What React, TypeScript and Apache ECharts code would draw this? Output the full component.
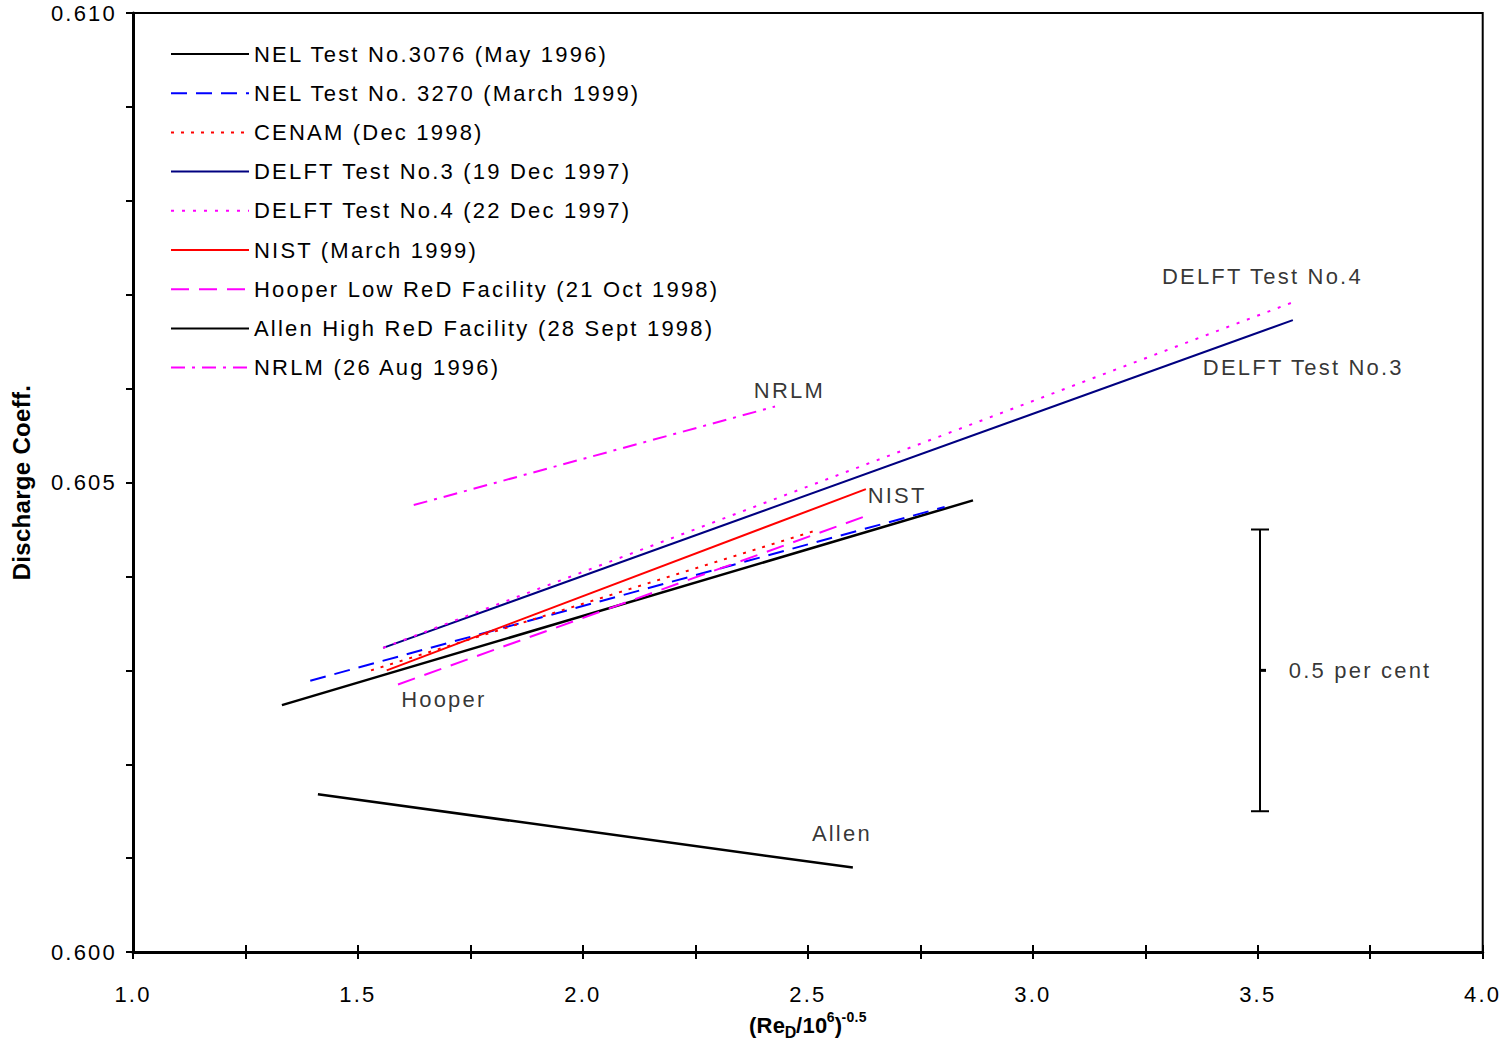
import React, { useEffect, useRef } from "react";
import * as echarts from "echarts";

const FONT = "'Liberation Sans', Arial, Helvetica, sans-serif";

// Series: [x = (ReD/1e6)^-0.5, discharge coefficient]
const NEL_3076 = [[1.331, 0.60263], [2.867, 0.60481]];
const NEL_3270 = [[1.394, 0.60289], [2.804, 0.60474]];
const CENAM = [[1.529, 0.60300], [2.518, 0.60449]];
const DELFT_3 = [[1.556, 0.60324], [3.578, 0.60673]];
const DELFT_4 = [[1.556, 0.60324], [3.578, 0.60692]];
const NIST = [[1.564, 0.60300], [2.629, 0.60493]];
const HOOPER = [[1.589, 0.60285], [2.633, 0.60465]];
const ALLEN = [[1.411, 0.60168], [2.600, 0.60090]];
const NRLM = [[1.624, 0.60476], [2.427, 0.60581]];

const SERIES_NAMES = [
  "NEL Test No.3076 (May 1996)",
  "NEL Test No. 3270 (March 1999)",
  "CENAM (Dec 1998)",
  "DELFT Test No.3 (19 Dec 1997)",
  "DELFT Test No.4 (22 Dec 1997)",
  "NIST (March 1999)",
  "Hooper Low ReD Facility (21 Oct 1998)",
  "Allen High ReD Facility (28 Sept 1998)",
  "NRLM (26 Aug 1996)",
];
const SERIES_DATA = [NEL_3076, NEL_3270, CENAM, DELFT_3, DELFT_4, NIST, HOOPER, ALLEN, NRLM];
const SERIES_COLORS = ["#000000", "#0000ff", "#ff0000", "#000080", "#ff00ff", "#ff0000", "#ff00ff", "#000000", "#ff00ff"];
const SERIES_DASH: any[] = ["solid", [16, 9], [3, 7], "solid", [3, 8], "solid", [18, 10], "solid", [14, 7, 3, 7]];

// Annotation labels: [x, y, text]
const ANNOTATIONS: [number, number, string][] = [
  [3.287, 0.60719, "DELFT Test No.4"],
  [3.378, 0.60622, "DELFT Test No.3"],
  [2.38, 0.60598, "NRLM"],
  [2.633, 0.60486, "NIST"],
  [1.596, 0.60269, "Hooper"],
  [2.509, 0.60126, "Allen"],
  [3.569, 0.603, "0.5 per cent"],
];

// Scale bar: [x, yLow, yHigh] (0.5 per cent of 0.6)
const SCALE_BAR = [[3.505, 0.6015, 0.6045]];

const X_MIN = 1.0, X_MAX = 4.0, X_STEP = 0.25;
const Y_MIN = 0.6, Y_MAX = 0.61, Y_STEP = 0.001;

export default function App() {
  const ref = useRef<HTMLDivElement>(null);

  useEffect(() => {
    if (!ref.current) return;
    const chart = echarts.init(ref.current, undefined, { renderer: "svg" });

    const lineSeries = SERIES_NAMES.map((name, i) => ({
      name,
      type: "line",
      data: SERIES_DATA[i],
      symbol: "none",
      showSymbol: false,
      xAxisIndex: 0,
      yAxisIndex: 0,
      lineStyle: {
        color: SERIES_COLORS[i],
        width: i === 0 || i === 7 ? 2.5 : 2,
        type: SERIES_DASH[i],
      },
      itemStyle: { color: SERIES_COLORS[i] },
      silent: true,
      z: 3,
    }));

    const option: any = {
      animation: false,
      textStyle: { fontFamily: FONT },
      grid: {
        left: 133,
        right: 18,
        top: 13,
        bottom: 89,
        show: true,
        borderColor: "#000",
        borderWidth: 2,
        backgroundColor: "transparent",
      },
      legend: {
        data: SERIES_NAMES,
        orient: "vertical",
        left: 165,
        top: 38,
        itemWidth: 78,
        itemHeight: 14,
        itemGap: 17.2,
        selectedMode: false,
        itemStyle: { opacity: 0 },
        textStyle: { fontSize: 22, color: "#000", lineHeight: 22, fontFamily: FONT },
      },
      xAxis: [
        {
          type: "value",
          min: X_MIN,
          max: X_MAX,
          interval: X_STEP,
          position: "bottom",
          axisLine: { show: true, onZero: false, lineStyle: { color: "#000", width: 3 } },
          axisTick: { show: true, inside: false, length: 7, lineStyle: { color: "#000", width: 2 } },
          splitLine: { show: false },
          axisLabel: {
            margin: 31,
            fontSize: 22,
            color: "#000",
            fontFamily: FONT,
            formatter: (v: number) => (Math.round(v * 4) % 2 === 0 ? v.toFixed(1) : ""),
          },
          name: "{b|(Re}{sub|D}{b|/10}{sup|6}{b|)}{sup|-0.5}",
          nameLocation: "middle",
          nameGap: 56,
          nameTextStyle: {
            rich: {
              b: { fontSize: 22, fontWeight: "bold", color: "#000", fontFamily: FONT, lineHeight: 30, verticalAlign: "middle" },
              sub: { fontSize: 16, fontWeight: "bold", color: "#000", fontFamily: FONT, verticalAlign: "bottom", lineHeight: 16 },
              sup: { fontSize: 14, fontWeight: "bold", color: "#000", fontFamily: FONT, verticalAlign: "top", lineHeight: 14 },
            },
          },
        },
        {
          type: "value",
          min: X_MIN,
          max: X_MAX,
          interval: X_STEP,
          position: "bottom",
          axisLine: { show: false, onZero: false },
          axisTick: { show: true, inside: true, length: 7, lineStyle: { color: "#000", width: 2 } },
          axisLabel: { show: false },
          splitLine: { show: false },
        },
      ],
      yAxis: {
        type: "value",
        min: Y_MIN,
        max: Y_MAX,
        interval: Y_STEP,
        axisLine: { show: true, onZero: false, lineStyle: { color: "#000", width: 3 } },
        axisTick: { show: true, inside: false, length: 7, lineStyle: { color: "#000", width: 2 } },
        splitLine: { show: false },
        axisLabel: {
          margin: 16,
          fontSize: 22,
          color: "#000",
          fontFamily: FONT,
          formatter: (v: number) => (Math.round(v * 1000) % 5 === 0 ? v.toFixed(3) : ""),
        },
        name: "Discharge Coeff.",
        nameLocation: "middle",
        nameRotate: 90,
        nameGap: 100,
        nameTextStyle: { fontSize: 24, fontWeight: "bold", color: "#000", fontFamily: FONT },
      },
      series: [
        ...lineSeries,
        {
          name: "annotations",
          type: "scatter",
          xAxisIndex: 0,
          yAxisIndex: 0,
          symbolSize: 0,
          silent: true,
          data: ANNOTATIONS.map(([x, y, t]) => ({ value: [x, y], text: t })),
          label: {
            show: true,
            position: [0, 0],
            align: "left",
            verticalAlign: "middle",
            fontSize: 22,
            color: "#000",
            fontFamily: FONT,
            formatter: (p: any) => p.data.text,
          },
          z: 5,
        },
        {
          name: "scale bar",
          type: "custom",
          xAxisIndex: 0,
          yAxisIndex: 0,
          silent: true,
          data: SCALE_BAR,
          encode: { x: 0, y: [1, 2] },
          renderItem: (params: any, api: any) => {
            const x = api.value(0);
            const lo = api.value(1);
            const hi = api.value(2);
            const p0 = api.coord([x, lo]);
            const p1 = api.coord([x, hi]);
            const pm = api.coord([x, (lo + hi) / 2]);
            const st = { stroke: "#000", lineWidth: 2 };
            return {
              type: "group",
              children: [
                { type: "line", shape: { x1: p0[0], y1: p0[1], x2: p1[0], y2: p1[1] }, style: st },
                { type: "line", shape: { x1: p0[0] - 9, y1: p0[1], x2: p0[0] + 9, y2: p0[1] }, style: st },
                { type: "line", shape: { x1: p1[0] - 9, y1: p1[1], x2: p1[0] + 9, y2: p1[1] }, style: st },
                { type: "line", shape: { x1: pm[0], y1: pm[1], x2: pm[0] + 6, y2: pm[1] }, style: { stroke: "#000", lineWidth: 3 } },
              ],
            };
          },
          z: 4,
        },
      ],
    };

    chart.setOption(option);
    return () => chart.dispose();
  }, []);

  return (
    <>
      <style>{`#chart text { letter-spacing: 2.2px; } #chart text[style*="bold"] { letter-spacing: 0.3px; }`}</style>
      <div
        id="chart"
        ref={ref}
        style={{ position: "absolute", left: 0, top: 0, width: 1501, height: 1045, background: "#fff" }}
      />
    </>
  );
}
